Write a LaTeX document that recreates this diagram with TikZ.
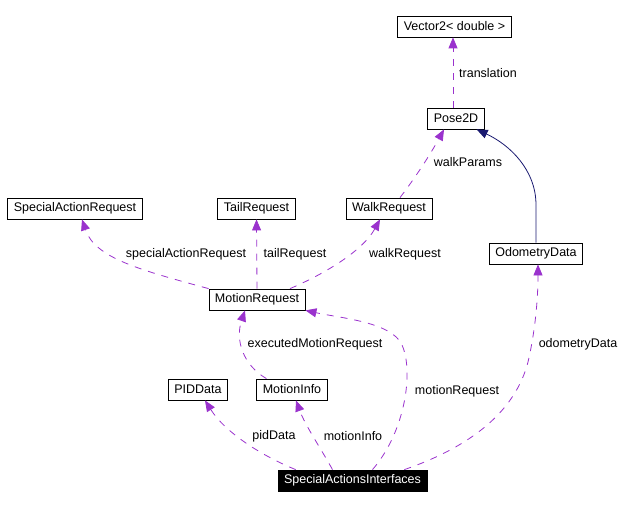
\documentclass[tikz,border=0pt]{standalone}
\usepackage{fontspec}
\setmainfont{Liberation Sans}
\usetikzlibrary{arrows.meta}
\definecolor{usepurple}{RGB}{154,50,205}
\definecolor{basenavy}{RGB}{25,25,112}

\begin{document}
\begin{tikzpicture}[x=1pt,y=-1pt,
    font=\fontsize{12.5}{14}\selectfont,
    cls/.style={draw, line width=0.8pt, minimum height=21pt, inner xsep=6pt, inner ysep=0pt},
    focus/.style={cls, fill=black, text=white},
    uses/.style={usepurple, line width=0.8pt, dash pattern=on 7pt off 7pt, -{Triangle[length=11pt,width=9pt]}},
    base/.style={basenavy, line width=0.8pt, -{Triangle[length=11pt,width=9pt]}},
    lbl/.style={inner sep=0pt}]
    \useasboundingbox (0,0) rectangle (631,508);

    % Classes
    \node[cls] (vec) at (454.5,26.5) {Vector2< double >};
    \node[cls] (pose) at (456,118.5) {Pose2D};
    \node[cls] (sar) at (75,208.5) {SpecialActionRequest};
    \node[cls] (tail) at (256.5,208.5) {TailRequest};
    \node[cls] (walk) at (389,208.5) {WalkRequest};
    \node[cls] (odom) at (536,253.5) {OdometryData};
    \node[cls] (motion) at (257,299.5) {MotionRequest};
    \node[cls] (pid) at (198,389.5) {PIDData};
    \node[cls] (info) at (292,389.5) {MotionInfo};
    \node[focus] (sai) at (352.5,480.5) {SpecialActionsInterfaces};

    % Pose2D and its parts
    \draw[uses] ([xshift=-3pt]pose.north) -- ([xshift=-1.5pt]vec.south);
    \draw[uses] ([xshift=11pt]walk.north) .. controls (415,178) and (430,155) .. ([xshift=-12pt]pose.south);
    \draw[base] (odom.north) -- (536,205) .. controls (536,170) and (510,145) .. ([xshift=-8pt]pose.south east);

    % MotionRequest members
    \draw[uses] (motion.north west) .. controls (140,270) and (95,258) .. ([xshift=7pt]sar.south);
    \draw[uses] (motion.north) -- (tail.south);
    \draw[uses] ([xshift=33pt]motion.north) .. controls (322,275) and (362,252) .. ([xshift=-9pt]walk.south);
    \draw[uses] ([xshift=10pt]info.north west) .. controls (243,365) and (235,340) .. ([xshift=-12pt]motion.south);

    % SpecialActionsInterfaces members
    \draw[uses] ([xshift=20pt]sai.north) .. controls (405,432) and (414,372) .. (402,345)
        .. controls (392,322) and (340,318) .. (motion.south east);
    \draw[uses] ([xshift=18pt]sai.north west) .. controls (260,455) and (225,432) .. ([xshift=7pt]pid.south);
    \draw[uses] ([xshift=-20pt]sai.north) .. controls (320,447) and (305,425) .. ([xshift=4pt]info.south);
    \draw[uses] ([xshift=-23pt]sai.north east) .. controls (470,447) and (515,412) .. (528,362)
        .. controls (535,332) and (538,300) .. ([xshift=2pt]odom.south);

    % Member names
    \node[lbl] (ltrans) at (488,73) {translation};
    \node[lbl] (lwalkp) at (468,162) {walkParams};
    \node[lbl] (lsar) at (186,254) {specialActionRequest};
    \node[lbl] (ltail) at (295,254) {tailRequest};
    \node[lbl] (lwalk) at (405,254) {walkRequest};
    \node[lbl] (lexec) at (315,344) {executedMotionRequest};
    \node[lbl] (lodom) at (578,344) {odometryData};
    \node[lbl] (lmotion) at (457,391) {motionRequest};
    \node[lbl] (lpid) at (274,436) {pidData};
    \node[lbl] (linfo) at (353,436) {motionInfo};
\end{tikzpicture}
\end{document}
